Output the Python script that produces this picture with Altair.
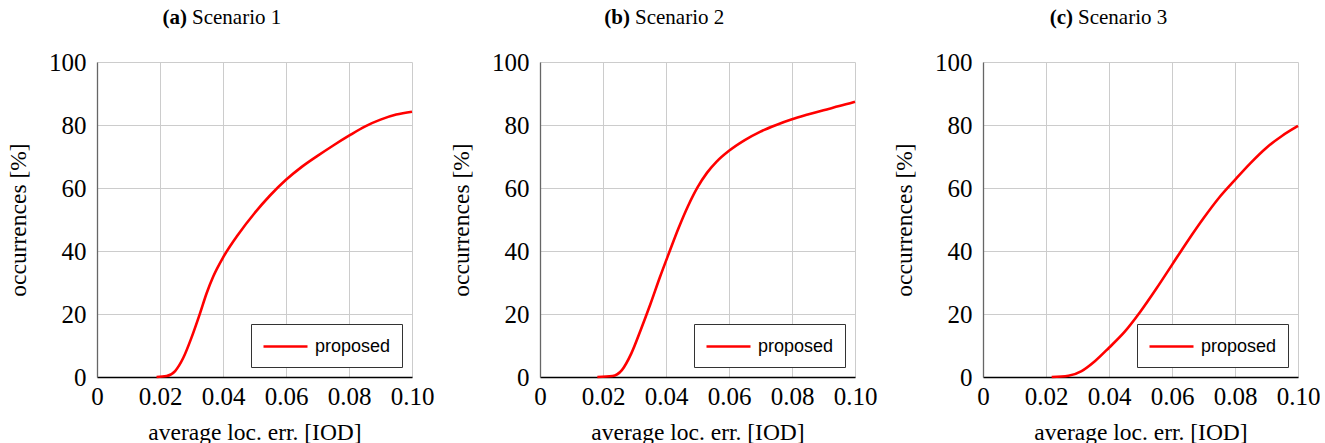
import altair as alt
import pandas as pd

# Scenario 1
x1 = [0.0189, 0.0221, 0.0248, 0.0274, 0.030, 0.0327, 0.0348, 0.0369, 0.040, 0.045, 0.050, 0.055, 0.060, 0.065, 0.070, 0.075, 0.080, 0.085, 0.090, 0.095, 0.100]
y1 = [0, 0.3, 1.9, 6.1, 12.5, 20.2, 26.6, 31.9, 37.9, 45.5, 52, 57.7, 62.6, 66.7, 70.2, 73.5, 76.6, 79.5, 81.7, 83.3, 84.2]
# Scenario 2
x2 = [0.0182, 0.023, 0.026, 0.029, 0.032, 0.035, 0.038, 0.041, 0.044, 0.047, 0.050, 0.053, 0.056, 0.060, 0.065, 0.070, 0.075, 0.080, 0.085, 0.090, 0.095, 0.100]
y2 = [0, 0.3, 2.2, 7.5, 15, 23, 31.5, 39.5, 47.3, 54.3, 60.2, 64.8, 68.3, 71.8, 75.2, 77.9, 80, 81.8, 83.3, 84.7, 86, 87.4]
# Scenario 3
x3 = [0.0218, 0.0271, 0.0313, 0.0356, 0.040, 0.045, 0.050, 0.055, 0.060, 0.065, 0.070, 0.075, 0.080, 0.085, 0.090, 0.095, 0.100]
y3 = [0, 0.4, 1.9, 5.1, 9.3, 14.4, 20.8, 28, 35.6, 43.2, 50.4, 57, 62.6, 68, 72.8, 76.6, 79.7]

letters = ["(a)", "(b)", "(c)"]
names = ["Scenario 1", "Scenario 2", "Scenario 3"]
series = "proposed"
x_ticks = [0, 0.02, 0.04, 0.06, 0.08, 0.10]
y_ticks = [0, 20, 40, 60, 80, 100]

SERIF = "Liberation Serif"
SANS = "Liberation Sans"


def panel(xs, ys, letter, name):
    df = pd.DataFrame({"x": xs, "y": ys, "s": [series] * len(xs)})
    line = alt.Chart(df).mark_line(color="#ff0000", strokeWidth=2.6, interpolate="monotone").encode(
        x=alt.X("x:Q", scale=alt.Scale(domain=[0, 0.1], nice=False, zero=False),
                axis=alt.Axis(values=x_ticks, title="average loc. err. [IOD]",
                              labelExpr="datum.value == 0 ? '0' : format(datum.value, '.2f')",
                              domainColor="#000000")),
        y=alt.Y("y:Q", scale=alt.Scale(domain=[0, 100], nice=False),
                axis=alt.Axis(values=y_ticks, title="occurrences [%]", domainColor="#666666")),
        color=alt.Color("s:N", scale=alt.Scale(range=["#ff0000"]),
                        legend=alt.Legend(title=None, orient="bottom-right")),
    )
    t1 = alt.Chart(pd.DataFrame({"t": [letter]})).mark_text(
        align="right", baseline="alphabetic", font=SERIF, fontSize=21, fontWeight="bold", color="black"
    ).encode(x=alt.value(90), y=alt.value(-38), text="t:N")
    t2 = alt.Chart(pd.DataFrame({"t": [name]})).mark_text(
        align="left", baseline="alphabetic", font=SERIF, fontSize=21, color="black"
    ).encode(x=alt.value(95), y=alt.value(-38), text="t:N")
    return alt.layer(line, t1, t2).properties(width=315, height=315)


chart = alt.hconcat(
    panel(x1, y1, letters[0], names[0]),
    panel(x2, y2, letters[1], names[1]),
    panel(x3, y3, letters[2], names[2]),
    spacing=128,
    bounds="flush",
).resolve_scale(color="independent").resolve_legend(color="independent").properties(
    padding={"left": 6, "top": 7, "right": 0, "bottom": 0},
    background="white",
).configure_view(stroke=None).configure_axis(
    labelFont=SERIF, labelFontSize=25, labelColor="black", labelOverlap=False, labelFlush=False,
    titleFont=SERIF, titleFontSize=23.5, titleFontWeight="normal", titleColor="black",
    grid=True, gridColor="#cccccc", gridWidth=1,
    ticks=False, domainWidth=1.3,
).configure_axisX(labelPadding=7, titlePadding=11).configure_axisY(
    labelPadding=11, titlePadding=18
).configure_legend(
    strokeColor="#333333", fillColor="white", padding=11, offset=10,
    symbolType="M-1,0H3.4", symbolStrokeWidth=2.6, symbolSize=400,
    labelFont=SANS, labelFontSize=18, labelColor="black", labelOffset=30,
    cornerRadius=0,
)

chart.save("out.html", embed_options={"renderer": "svg", "actions": False})
